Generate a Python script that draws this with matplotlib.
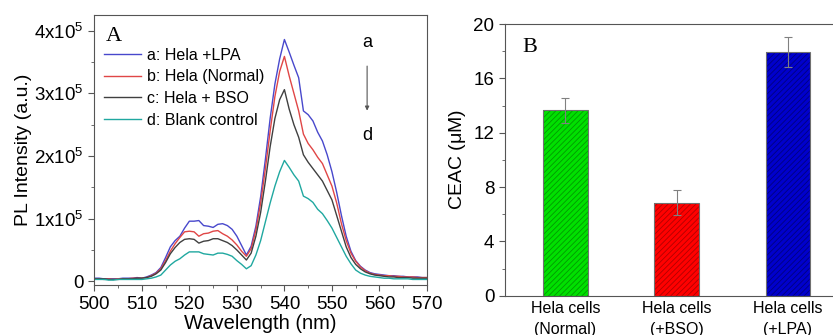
import numpy as np
import matplotlib
matplotlib.use("Agg")
import matplotlib.pyplot as plt
from matplotlib.ticker import MultipleLocator

plt.rcParams['font.family'] = ['Liberation Sans', 'DejaVu Sans']
plt.rcParams['mathtext.fontset'] = 'custom'
plt.rcParams['mathtext.rm'] = 'Liberation Sans'
plt.rcParams['mathtext.it'] = 'Liberation Sans'
plt.rcParams['hatch.linewidth'] = 0.6

# panel A: PL spectra, intensity in units of 1e5
wavelength = list(range(500, 571))
hela_lpa = [0.05, 0.05, 0.04, 0.04, 0.04, 0.04, 0.05, 0.05, 0.05, 0.06, 0.05,
            0.07, 0.10, 0.14, 0.22, 0.38, 0.55, 0.65, 0.72, 0.85, 0.96,
            0.96, 0.97, 0.89, 0.88, 0.86, 0.91, 0.92, 0.89, 0.83, 0.72,
            0.57, 0.42, 0.56, 0.88, 1.35, 1.95, 2.60, 3.15, 3.55, 3.86,
            3.66, 3.45, 3.25, 2.72, 2.66, 2.56, 2.38, 2.24, 2.02, 1.75,
            1.42, 1.05, 0.72, 0.48, 0.33, 0.24, 0.18, 0.14, 0.12, 0.11,
            0.10, 0.09, 0.09, 0.08, 0.08, 0.07, 0.07, 0.07, 0.06, 0.06]
hela_normal = [0.04, 0.04, 0.03, 0.04, 0.03, 0.04, 0.04, 0.04, 0.05, 0.05, 0.05,
               0.06, 0.09, 0.13, 0.20, 0.33, 0.48, 0.60, 0.70, 0.79, 0.80,
               0.79, 0.72, 0.76, 0.77, 0.80, 0.81, 0.76, 0.72, 0.66, 0.58,
               0.48, 0.40, 0.52, 0.82, 1.25, 1.80, 2.40, 2.95, 3.35, 3.59,
               3.28, 3.00, 2.72, 2.35, 2.20, 2.10, 1.98, 1.88, 1.70, 1.52,
               1.25, 0.92, 0.65, 0.45, 0.32, 0.23, 0.17, 0.13, 0.11, 0.10,
               0.09, 0.09, 0.08, 0.08, 0.07, 0.07, 0.07, 0.06, 0.06, 0.06]
hela_bso = [0.04, 0.04, 0.04, 0.03, 0.03, 0.03, 0.04, 0.04, 0.04, 0.05, 0.05,
            0.06, 0.08, 0.12, 0.18, 0.30, 0.44, 0.54, 0.62, 0.67, 0.68,
            0.67, 0.61, 0.64, 0.65, 0.68, 0.68, 0.65, 0.62, 0.57, 0.50,
            0.42, 0.34, 0.45, 0.72, 1.10, 1.60, 2.15, 2.60, 2.90, 3.06,
            2.75, 2.50, 2.30, 2.02, 1.90, 1.80, 1.70, 1.60, 1.45, 1.30,
            1.05, 0.80, 0.55, 0.38, 0.27, 0.20, 0.15, 0.12, 0.10, 0.09,
            0.08, 0.07, 0.07, 0.06, 0.06, 0.06, 0.05, 0.05, 0.05, 0.05]
blank = [0.03, 0.03, 0.03, 0.02, 0.02, 0.03, 0.03, 0.03, 0.03, 0.03, 0.03,
         0.04, 0.05, 0.07, 0.10, 0.18, 0.26, 0.32, 0.36, 0.42, 0.47,
         0.47, 0.47, 0.44, 0.43, 0.42, 0.45, 0.45, 0.43, 0.40, 0.33,
         0.27, 0.20, 0.25, 0.42, 0.65, 0.95, 1.25, 1.52, 1.75, 1.93,
         1.82, 1.70, 1.60, 1.36, 1.32, 1.26, 1.15, 1.08, 0.97, 0.85,
         0.70, 0.55, 0.40, 0.28, 0.18, 0.13, 0.10, 0.08, 0.07, 0.06,
         0.05, 0.05, 0.04, 0.04, 0.04, 0.04, 0.03, 0.03, 0.03, 0.03]
series_labels = ["a: Hela +LPA", "b: Hela (Normal)", "c: Hela + BSO", "d: Blank control"]
series_colors = ["#4848cc", "#e04646", "#404040", "#20a8a0"]

# panel B: CEAC bars
groups = ["Hela cells\n(Normal)", "Hela cells\n(+BSO)", "Hela cells\n(+LPA)"]
ceac = [13.65, 6.85, 17.95]
ceac_err = [0.9, 0.93, 1.12]
bar_colors = ["#00e000", "#ff0000", "#0000cc"]
hatch_colors = ["#009a00", "#b00000", "#000080"]

fig = plt.figure(figsize=(8.33, 3.35), dpi=100)
spine_col = "#555555"

# ---- panel A
ax1 = fig.add_axes([0.1132, 0.149, 0.3994, 0.806])
for ys, lab, col in zip([hela_lpa, hela_normal, hela_bso, blank], series_labels, series_colors):
    ax1.plot(wavelength, np.array(ys) * 1e5, color=col, lw=1.0, label=lab)
ax1.set_xlim(500, 570)
ax1.set_ylim(-6000, 4.25e5)
ax1.set_xticks(range(500, 571, 10))
ax1.xaxis.set_minor_locator(MultipleLocator(5))
ax1.set_yticks([0, 1e5, 2e5, 3e5, 4e5])
ax1.set_yticklabels(["0", r"1x10$^5$", r"2x10$^5$", r"3x10$^5$", r"4x10$^5$"])
ax1.yaxis.set_minor_locator(MultipleLocator(0.5e5))
ax1.tick_params(which="both", direction="out", top=False, right=False,
                color=spine_col, labelsize=13.5)
ax1.tick_params(which="major", length=4)
ax1.tick_params(which="minor", length=2.5)
ax1.set_xlabel("Wavelength (nm)", fontsize=14.5, labelpad=1)
ax1.set_ylabel("PL Intensity (a.u.)", fontsize=14, labelpad=2)
for s in ax1.spines.values():
    s.set_color(spine_col)
ax1.text(0.035, 0.955, "A", transform=ax1.transAxes, ha="left", va="top",
         fontsize=16, family="Liberation Serif")
ax1.legend(loc="upper left", bbox_to_anchor=(0.0, 0.915), frameon=False,
           fontsize=11.5, handlelength=2.3, handletextpad=0.4,
           labelspacing=0.42, borderaxespad=0.2)
ax1.text(557.4, 3.82e5, "a", ha="center", va="center", fontsize=13)
ax1.text(557.4, 2.32e5, "d", ha="center", va="center", fontsize=13)
ax1.annotate("", xy=(557.4, 2.68e5), xytext=(557.4, 3.48e5),
             arrowprops=dict(arrowstyle="-|>", color="#555555", lw=0.8,
                             mutation_scale=6))

# ---- panel B
ax2 = fig.add_axes([0.606, 0.117, 0.4125, 0.811])
xpos = np.arange(1, len(groups) + 1)
ax2.bar(xpos, ceac, width=0.4, color=bar_colors, edgecolor=hatch_colors,
        linewidth=0, hatch="//////")
ax2.bar(xpos, ceac, width=0.4, fill=False, edgecolor="#707070", linewidth=0.8)
ax2.errorbar(xpos, ceac, yerr=ceac_err, fmt="none", ecolor="#808080",
             elinewidth=0.8, capsize=3, capthick=0.8)
ax2.set_xlim(0.456, 3.544)
ax2.set_ylim(0, 20)
ax2.set_yticks([0, 4, 8, 12, 16, 20])
ax2.yaxis.set_minor_locator(MultipleLocator(2))
ax2.set_xticks(xpos)
ax2.set_xticklabels(groups, fontsize=11.5, linespacing=1.45)
ax2.tick_params(axis="x", length=0, pad=4)
ax2.tick_params(axis="y", which="both", direction="out", right=False,
                color=spine_col, labelsize=13.5)
ax2.tick_params(axis="y", which="major", length=4)
ax2.tick_params(axis="y", which="minor", length=2.5)
ax2.set_ylabel(r"CEAC ($\mu$M)", fontsize=14, labelpad=4)
for s in ax2.spines.values():
    s.set_color(spine_col)
ax2.text(0.052, 0.95, "B", transform=ax2.transAxes, ha="left", va="top",
         fontsize=16, family="Liberation Serif")

fig.savefig("out.png", dpi=100)
